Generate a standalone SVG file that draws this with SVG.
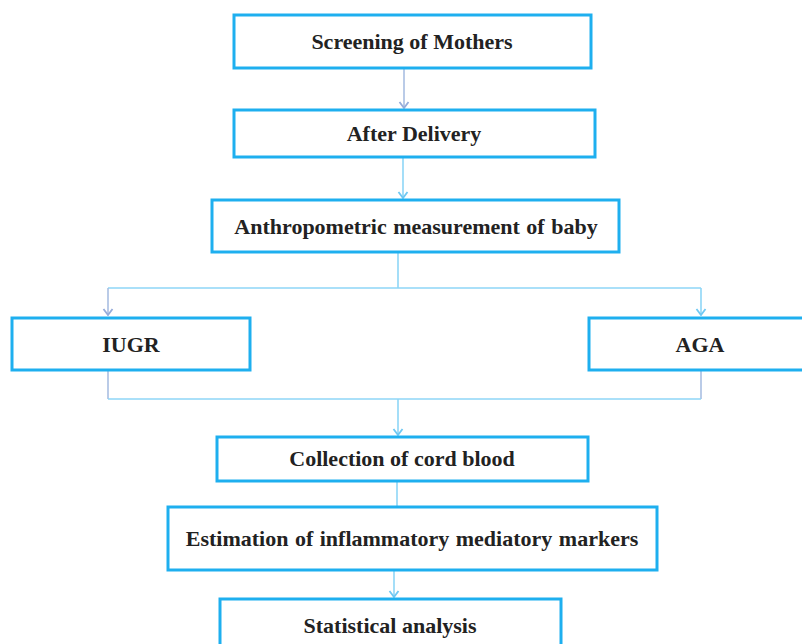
<svg xmlns="http://www.w3.org/2000/svg" width="802" height="644" viewBox="0 0 802 644">
<defs>
<style>
.box{fill:#fff;stroke:#1EAFEF;stroke-width:3}
text{font-family:'Liberation Serif','DejaVu Serif','Times New Roman',serif;font-weight:700;font-size:22px;fill:#222;text-anchor:middle}
.c{fill:none;stroke:#8ED6F7;stroke-width:1.6}
.g{fill:none;stroke:#A9BEE2;stroke-width:1.6}
</style>
<marker id="ah" viewBox="0 0 12 12" refX="11" refY="6" markerWidth="12" markerHeight="12" markerUnits="userSpaceOnUse" orient="auto">
<path d="M5,1.5 L11,6 L5,10.5" fill="none" stroke="#6FC8F3" stroke-width="1.8"/>
</marker>
<marker id="ahg" viewBox="0 0 12 12" refX="11" refY="6" markerWidth="12" markerHeight="12" markerUnits="userSpaceOnUse" orient="auto">
<path d="M5,1.5 L11,6 L5,10.5" fill="none" stroke="#96ACDA" stroke-width="1.8"/>
</marker>
</defs>
<rect width="802" height="644" fill="#fff"/>
<g id="connectors">
<path class="g" d="M404,68 V108" marker-end="url(#ahg)"/>
<path class="c" d="M403,157 V198" marker-end="url(#ah)"/>
<path class="c" d="M398,252 V288"/>
<path class="c" d="M108,288 H701"/>
<path class="g" d="M108,288 V315" marker-end="url(#ahg)"/>
<path class="c" d="M701,288 V315" marker-end="url(#ah)"/>
<path class="g" d="M108,370 V399"/>
<path class="g" d="M701,370 V399"/>
<path class="c" d="M108,399 H701"/>
<path class="c" d="M398,399 V435" marker-end="url(#ah)"/>
<path class="c" d="M397,481 V506"/>
<path class="c" d="M394,570 V597" marker-end="url(#ah)"/>
</g>
<g id="n1"><rect class="box" x="234" y="15" width="357" height="53"/><text x="412" y="49">Screening of Mothers</text></g>
<g id="n2"><rect class="box" x="234" y="110" width="361" height="47"/><text x="414" y="141">After Delivery</text></g>
<g id="n3"><rect class="box" x="212" y="200" width="407" height="52"/><text x="416" y="234" word-spacing="1">Anthropometric measurement of baby</text></g>
<g id="n4"><rect class="box" x="12" y="318" width="238" height="52"/><text x="131" y="352">IUGR</text></g>
<g id="n5"><rect class="box" x="589" y="318" width="220" height="52"/><text x="700" y="352">AGA</text></g>
<g id="n6"><rect class="box" x="217" y="437" width="371" height="44"/><text x="402" y="466">Collection of cord blood</text></g>
<g id="n7"><rect class="box" x="168" y="507" width="489" height="63"/><text x="412" y="546" word-spacing="1">Estimation of inflammatory mediatory markers</text></g>
<g id="n8"><rect class="box" x="220" y="599" width="341" height="60"/><text x="390" y="633">Statistical analysis</text></g>
</svg>
